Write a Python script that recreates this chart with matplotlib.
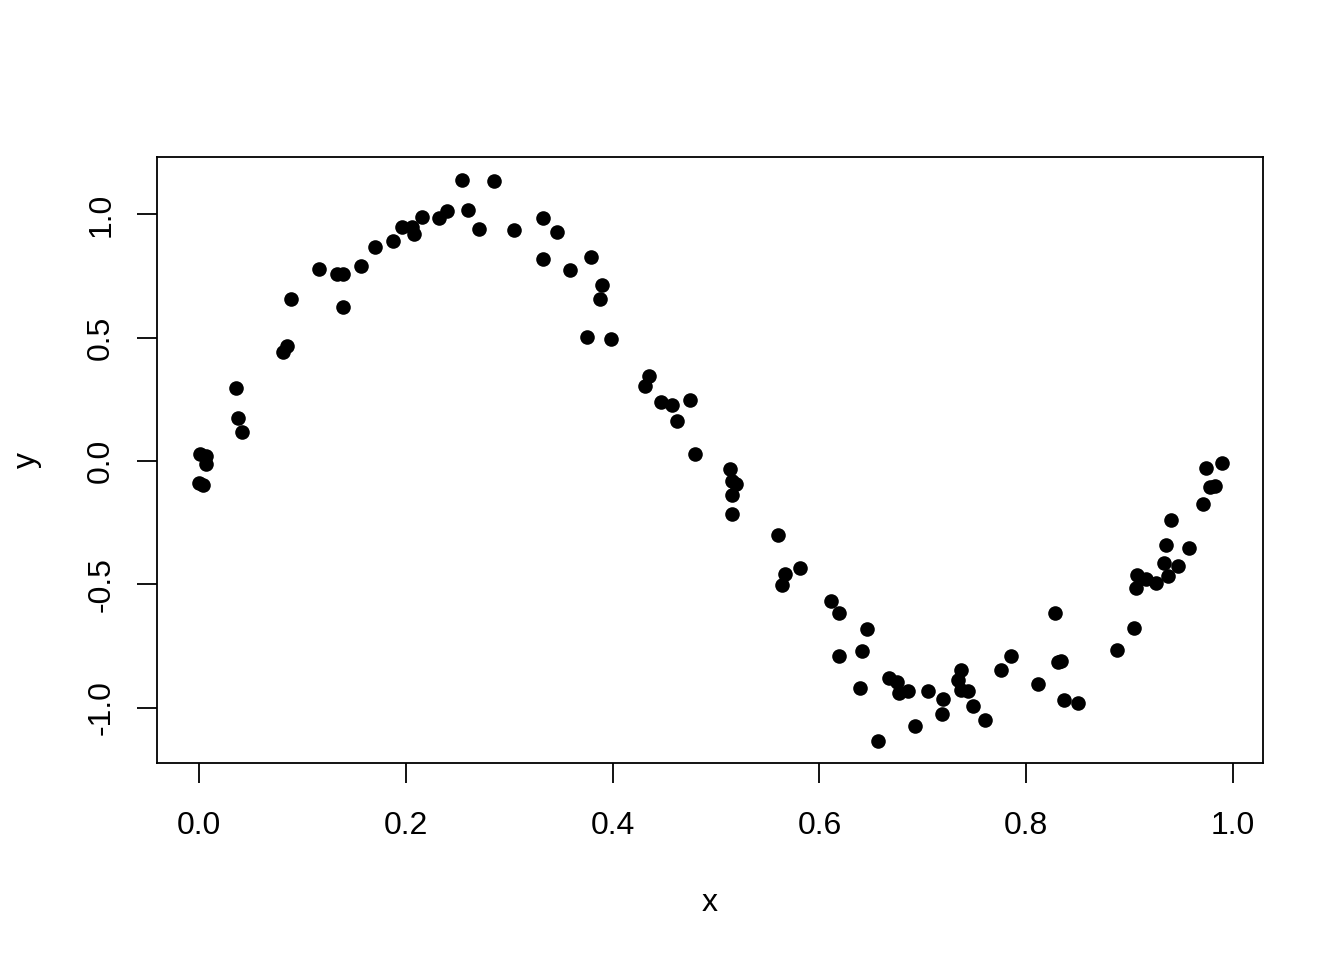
import numpy as np
import matplotlib.pyplot as plt

plt.rcParams['font.family'] = ['Liberation Sans', 'DejaVu Sans']

# data
x = [0.000, 0.001, 0.004, 0.007, 0.007, 0.036, 0.038, 0.042, 0.081, 0.085,
     0.089, 0.116, 0.133, 0.139, 0.139, 0.157, 0.170, 0.188, 0.196, 0.206,
     0.208, 0.216, 0.232, 0.240, 0.254, 0.260, 0.271, 0.285, 0.305, 0.333,
     0.333, 0.346, 0.359, 0.375, 0.379, 0.388, 0.390, 0.398, 0.431, 0.435,
     0.447, 0.457, 0.462, 0.475, 0.480, 0.514, 0.515, 0.515, 0.515, 0.519,
     0.560, 0.564, 0.567, 0.581, 0.611, 0.619, 0.619, 0.639, 0.641, 0.646,
     0.657, 0.667, 0.675, 0.677, 0.686, 0.692, 0.705, 0.719, 0.720, 0.734,
     0.737, 0.737, 0.744, 0.749, 0.760, 0.776, 0.785, 0.811, 0.828, 0.831,
     0.834, 0.837, 0.850, 0.888, 0.904, 0.906, 0.907, 0.916, 0.926, 0.933,
     0.935, 0.937, 0.940, 0.947, 0.957, 0.971, 0.974, 0.978, 0.983, 0.989]
y = [-0.089, 0.028, -0.097, 0.020, -0.012, 0.296, 0.174, 0.118, 0.442, 0.467,
     0.657, 0.779, 0.759, 0.759, 0.625, 0.791, 0.868, 0.892, 0.949, 0.949,
     0.921, 0.990, 0.986, 1.014, 1.140, 1.018, 0.941, 1.136, 0.937, 0.986,
     0.819, 0.929, 0.775, 0.503, 0.828, 0.657, 0.714, 0.495, 0.304, 0.345,
     0.239, 0.227, 0.162, 0.247, 0.028, -0.032, -0.081, -0.138, -0.215, -0.093,
     -0.300, -0.503, -0.458, -0.434, -0.568, -0.617, -0.791, -0.921, -0.771, -0.682,
     -1.136, -0.880, -0.897, -0.941, -0.933, -1.075, -0.933, -1.026, -0.966, -0.888,
     -0.848, -0.929, -0.933, -0.994, -1.051, -0.848, -0.791, -0.905, -0.617, -0.815,
     -0.811, -0.970, -0.982, -0.767, -0.677, -0.515, -0.462, -0.479, -0.495, -0.414,
     -0.341, -0.467, -0.239, -0.426, -0.353, -0.174, -0.028, -0.105, -0.101, -0.008]

xticks = [0.0, 0.2, 0.4, 0.6, 0.8, 1.0]
yticks = [-1.0, -0.5, 0.0, 0.5, 1.0]

W, H = 1344, 960
fig = plt.figure(figsize=(W / 100, H / 100), dpi=100)
ax = fig.add_axes([157 / W, 1 - 763 / H, (1263 - 157) / W, (763 - 157) / H])

ax.plot(x, y, 'o', color='black', markersize=10.5, markeredgewidth=0)

ax.set_xlim(-0.0406, 1.029)
ax.set_ylim(-1.225, 1.233)
ax.set_xticks(xticks)
ax.set_xticklabels([f'{t:.1f}' for t in xticks])
ax.set_yticks(yticks)
ax.set_yticklabels([f'{t:.1f}' for t in yticks], rotation=90, va='center')

for s in ax.spines.values():
    s.set_linewidth(1.3)
ax.tick_params(direction='out', length=14.4, width=1.3, labelsize=23)
ax.tick_params(axis='x', pad=20)
ax.tick_params(axis='y', pad=15)

# axis titles placed like R's default mtext lines
fig.text(710 / W, 1 - 911 / H, 'x', fontsize=23, ha='center', va='baseline')
fig.text(35 / W, 1 - 460 / H, 'y', fontsize=23, ha='center', va='baseline',
         rotation=90, rotation_mode='anchor')

fig.savefig('out.png', dpi=100)
